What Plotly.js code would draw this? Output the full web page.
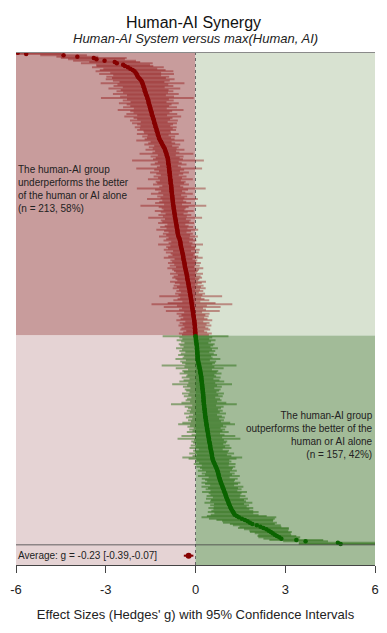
<!DOCTYPE html>
<html>
<head>
<meta charset="utf-8">
<script src="https://cdn.plot.ly/plotly-3.0.1.min.js"></script>
<style>html,body{margin:0;padding:0;background:#fff;}#chart{width:387px;height:633px;}</style>
</head>
<body>
<div id="chart"></div>
<script>
// Effect sizes (Hedges' g), sorted; underperforming group (n = 213)
const negEffects = [
-5.94,-5.66,-4.41,-3.95,-3.40,-3.31,-3.04,-2.70,-2.63,-2.42,
-2.36,-2.26,-2.18,-2.10,-2.04,-2.00,-1.97,-1.95,-1.93,-1.89,
-1.85,-1.81,-1.79,-1.77,-1.76,-1.74,-1.73,-1.71,-1.70,-1.69,
-1.67,-1.66,-1.64,-1.62,-1.61,-1.59,-1.58,-1.57,-1.56,-1.55,
-1.53,-1.52,-1.51,-1.50,-1.48,-1.47,-1.46,-1.45,-1.43,-1.42,
-1.40,-1.39,-1.38,-1.37,-1.35,-1.34,-1.33,-1.31,-1.30,-1.29,
-1.27,-1.26,-1.25,-1.23,-1.22,-1.20,-1.18,-1.15,-1.13,-1.11,
-1.08,-1.06,-1.03,-1.02,-1.00,-0.99,-0.97,-0.96,-0.95,-0.93,
-0.92,-0.92,-0.91,-0.91,-0.90,-0.89,-0.89,-0.88,-0.88,-0.87,
-0.87,-0.86,-0.86,-0.85,-0.85,-0.84,-0.84,-0.83,-0.83,-0.82,
-0.81,-0.81,-0.81,-0.80,-0.80,-0.79,-0.79,-0.78,-0.78,-0.77,
-0.77,-0.76,-0.76,-0.75,-0.75,-0.74,-0.73,-0.73,-0.72,-0.71,
-0.71,-0.70,-0.69,-0.69,-0.68,-0.67,-0.66,-0.66,-0.65,-0.64,
-0.63,-0.63,-0.62,-0.61,-0.60,-0.60,-0.59,-0.58,-0.57,-0.55,
-0.53,-0.52,-0.51,-0.50,-0.50,-0.49,-0.48,-0.47,-0.46,-0.45,
-0.44,-0.43,-0.42,-0.41,-0.41,-0.40,-0.39,-0.38,-0.37,-0.36,
-0.36,-0.35,-0.34,-0.33,-0.32,-0.31,-0.30,-0.29,-0.28,-0.28,
-0.27,-0.26,-0.25,-0.24,-0.23,-0.23,-0.22,-0.21,-0.20,-0.19,
-0.19,-0.18,-0.17,-0.16,-0.16,-0.15,-0.14,-0.14,-0.13,-0.12,
-0.12,-0.11,-0.10,-0.10,-0.09,-0.08,-0.08,-0.07,-0.06,-0.06,
-0.05,-0.04,-0.04,-0.03,-0.03,-0.02,-0.02,-0.02,-0.01,-0.01,
-0.01,-0.005,-0.002
];
// 95% CI half-widths for the underperforming group
const negHalfCI = [
1.45,1.20,0.78,0.70,1.10,0.95,1.05,0.85,1.20,0.90,
0.95,1.20,0.90,1.10,1.30,0.85,1.25,0.80,1.05,0.90,
1.15,0.95,0.75,1.40,0.85,1.00,0.70,1.20,0.80,0.95,
0.75,1.10,0.65,0.90,1.55,0.70,0.85,0.60,1.00,0.75,
0.65,0.90,0.55,1.10,0.70,0.60,0.85,0.50,0.95,0.65,
0.55,0.80,0.45,0.75,0.60,0.50,0.70,0.55,0.65,0.45,
0.45,0.70,0.35,0.55,0.40,0.50,0.80,0.35,0.45,0.60,
0.30,0.50,0.40,0.65,0.35,0.45,0.90,0.30,0.55,0.40,
0.50,1.20,0.35,0.45,0.60,0.30,0.40,1.10,0.50,0.35,
0.65,0.45,0.30,0.55,0.40,0.75,0.35,0.50,0.45,0.60,
0.30,0.40,1.15,0.55,0.35,0.45,0.70,0.30,0.50,0.40,
0.85,0.35,0.45,0.60,0.30,1.10,0.50,0.40,0.35,0.65,
0.45,0.30,0.55,0.40,0.90,0.35,0.50,0.45,0.60,0.30,
0.40,0.55,0.35,0.70,0.45,0.30,0.50,0.40,0.65,0.35,
0.45,0.55,0.30,0.40,0.75,0.35,0.50,0.45,0.60,0.30,
0.55,0.40,0.35,0.50,0.65,0.30,0.45,0.40,0.55,0.35,
0.50,0.30,0.60,0.45,0.40,0.35,0.55,0.30,0.45,0.50,
0.40,0.35,0.60,0.45,0.30,0.50,0.40,0.55,0.35,0.45,
0.30,0.50,0.40,1.05,0.35,0.45,0.60,0.30,0.80,1.35,
0.50,0.95,0.35,0.45,0.90,0.30,0.55,0.40,0.50,0.35,
0.45,0.60,0.30,0.50,0.40,0.55,0.35,0.45,0.50,0.30,
0.40,0.55,0.45
];
// Effect sizes, outperforming group (n = 157)
const posEffects = [
0.002,0.01,0.01,0.02,0.02,0.03,0.04,0.04,0.05,0.05,
0.05,0.06,0.06,0.06,0.07,0.07,0.07,0.08,0.08,0.09,
0.10,0.11,0.12,0.13,0.14,0.15,0.16,0.16,0.17,0.18,
0.19,0.19,0.20,0.20,0.21,0.21,0.22,0.22,0.23,0.23,
0.24,0.24,0.25,0.25,0.26,0.26,0.26,0.27,0.27,0.27,
0.28,0.28,0.29,0.29,0.30,0.30,0.31,0.31,0.32,0.32,
0.33,0.33,0.34,0.35,0.35,0.36,0.37,0.37,0.38,0.39,
0.39,0.40,0.41,0.42,0.42,0.43,0.44,0.45,0.45,0.46,
0.47,0.48,0.49,0.49,0.50,0.51,0.52,0.53,0.54,0.55,
0.55,0.56,0.57,0.58,0.60,0.62,0.64,0.66,0.68,0.70,
0.72,0.73,0.75,0.76,0.77,0.78,0.79,0.81,0.82,0.84,
0.85,0.87,0.89,0.90,0.92,0.94,0.95,0.97,0.99,1.00,
1.02,1.03,1.05,1.07,1.09,1.10,1.12,1.14,1.16,1.18,
1.20,1.23,1.26,1.28,1.31,1.38,1.45,1.55,1.65,1.74,
1.82,1.90,2.05,2.17,2.27,2.37,2.45,2.52,2.58,2.65,
2.72,2.80,2.87,3.37,3.68,4.76,4.85
];
// 95% CI half-widths for the outperforming group
const posHalfCI = [
1.10,0.55,0.45,0.65,0.50,0.40,0.60,0.55,0.45,0.70,
0.50,0.60,0.40,0.55,0.65,0.45,0.50,0.75,0.40,0.60,
0.55,0.45,1.25,0.50,0.80,0.40,0.60,0.55,0.70,0.45,
0.50,0.65,0.40,0.60,0.75,0.45,1.00,0.50,0.65,0.40,
0.60,0.55,0.45,0.70,0.50,0.65,0.40,0.55,0.60,0.45,
0.75,1.10,0.40,0.65,0.55,0.45,0.60,0.50,0.70,0.40,
0.55,0.65,0.45,0.60,0.50,0.80,0.95,0.55,0.65,0.45,
0.60,0.50,0.70,0.40,0.55,0.90,0.45,1.05,0.50,0.60,
0.55,0.45,0.65,0.50,0.70,0.40,0.60,0.55,0.75,0.50,
0.65,1.00,0.80,0.55,0.60,0.50,0.70,0.45,0.65,0.55,
0.50,0.65,0.40,0.55,0.45,0.70,0.35,0.60,0.50,0.45,
0.65,0.55,0.40,0.70,0.50,0.60,0.45,0.75,0.55,0.50,
0.65,0.45,0.70,0.55,0.60,0.80,0.50,0.65,0.55,0.75,
0.60,0.70,0.85,0.65,0.80,1.00,1.25,1.10,0.95,0.85,
0.90,0.75,0.80,0.70,0.85,0.75,0.65,0.70,0.60,0.55,
0.65,0.70,0.60,0.90,0.75,1.30,1.40
];
// Overall average
const avgG = [-0.23];
const avgLo = [-0.39];
const avgHi = [-0.07];
const xTickVals = [-6, -3, 0, 3, 6];
const xTickText = ['-6', '-3', '0', '3', '6'];

const nNeg = negEffects.length, nPos = posEffects.length, nAll = nNeg + nPos;
const negRows = negEffects.map((_, i) => i + 0.5);
const posRows = posEffects.map((_, i) => nNeg + i + 0.5);
const avgRow = nAll + 8.3;
const yBottom = nAll + 15.3;

const FONT = 'Liberation Sans, Arial, Helvetica, sans-serif';

const traces = [
  {
    type: 'scatter', mode: 'markers', x: negEffects, y: negRows,
    marker: {color: '#860000', size: 4.5},
    error_x: {type: 'data', symmetric: true, array: negHalfCI, color: 'rgba(140,10,10,0.40)', thickness: 2, width: 0},
    hoverinfo: 'x', showlegend: false
  },
  {
    type: 'scatter', mode: 'markers', x: posEffects, y: posRows,
    marker: {color: '#0b6400', size: 4.5},
    error_x: {type: 'data', symmetric: true, array: posHalfCI, color: 'rgba(25,100,0,0.45)', thickness: 2, width: 0},
    hoverinfo: 'x', showlegend: false
  },
  {
    type: 'scatter', mode: 'markers', x: avgG, y: [avgRow],
    marker: {color: '#860000', size: 6},
    error_x: {type: 'data', symmetric: false, array: [avgHi[0] - avgG[0]], arrayminus: [avgG[0] - avgLo[0]], color: '#860000', thickness: 2, width: 0},
    hoverinfo: 'x', showlegend: false
  }
];

const layout = {
  width: 387, height: 633,
  margin: {l: 16, r: 12, t: 52, b: 68},
  paper_bgcolor: '#ffffff', plot_bgcolor: '#ffffff',
  font: {family: FONT, color: '#222'},
  title: {text: 'Human-AI Synergy', font: {family: FONT, size: 16, color: '#111'}, x: 0.5, xanchor: 'center', y: 1 - 22/633, yref: 'container', yanchor: 'middle'},
  xaxis: {
    range: [-6, 6], tickvals: xTickVals, ticktext: xTickText,
    ticks: 'outside', ticklen: 7, tickwidth: 1, tickcolor: '#444',
    ticklabelstandoff: 5,
    showline: true, linecolor: '#444', linewidth: 1,
    showgrid: false, zeroline: false, fixedrange: true,
    tickfont: {family: FONT, size: 13, color: '#222'},
    title: {text: "Effect Sizes (Hedges' g) with 95% Confidence Intervals", font: {family: FONT, size: 13, color: '#222'}, standoff: 14}
  },
  yaxis: {
    range: [yBottom, 0], showgrid: false, zeroline: false, showticklabels: false,
    ticks: '', showline: false, fixedrange: true
  },
  shapes: [
    {type: 'rect', layer: 'below', xref: 'x', yref: 'y', x0: -6, x1: 0, y0: 0, y1: nNeg, fillcolor: '#c89c9c', line: {width: 0}},
    {type: 'rect', layer: 'below', xref: 'x', yref: 'y', x0: 0, x1: 6, y0: 0, y1: nNeg, fillcolor: '#d8e2d1', line: {width: 0}},
    {type: 'rect', layer: 'below', xref: 'x', yref: 'y', x0: -6, x1: 0, y0: nNeg, y1: yBottom, fillcolor: '#e5d3d4', line: {width: 0}},
    {type: 'rect', layer: 'below', xref: 'x', yref: 'y', x0: 0, x1: 6, y0: nNeg, y1: yBottom, fillcolor: '#a2bb98', line: {width: 0}},
    {type: 'line', layer: 'below', xref: 'x', yref: 'y', x0: 0, x1: 0, y0: 0, y1: yBottom, line: {color: '#666', width: 1, dash: 'dot'}},
    {type: 'line', layer: 'above', xref: 'x', yref: 'y', x0: -6, x1: 6, y0: 0, y1: 0, line: {color: '#8a8a8a', width: 2}},
    {type: 'line', layer: 'above', xref: 'x', yref: 'y', x0: -6, x1: 6, y0: nAll, y1: nAll, line: {color: 'rgba(70,70,70,0.55)', width: 1.5}}
  ],
  annotations: [
    {text: '<i>Human-AI System versus max(Human, AI)</i>', xref: 'paper', yref: 'paper', x: 0.5, y: (565 - 39) / 513, xanchor: 'center', yanchor: 'middle', showarrow: false, font: {family: FONT, size: 13, color: '#222'}},
    {text: 'The human-AI group<br>underperforms the better<br>of the human or AI alone<br>(n = 213, 58%)', xref: 'x', yref: 'y', x: -6, y: 103, xanchor: 'left', yanchor: 'middle', align: 'left', showarrow: false, font: {family: FONT, size: 10, color: '#222'}},
    {text: 'The human-AI group<br>outperforms the better of the<br>human or AI alone<br>(n = 157, 42%)', xref: 'x', yref: 'y', x: 6, y: 287.5, xanchor: 'right', yanchor: 'middle', align: 'right', showarrow: false, font: {family: FONT, size: 10, color: '#222'}},
    {text: 'Average: g = -0.23 [-0.39,-0.07]', xref: 'x', yref: 'y', x: -6, y: avgRow, xanchor: 'left', yanchor: 'middle', align: 'left', showarrow: false, font: {family: FONT, size: 10, color: '#222'}}
  ]
};

Plotly.newPlot('chart', traces, layout, {staticPlot: true, displayModeBar: false});
</script>
</body>
</html>
